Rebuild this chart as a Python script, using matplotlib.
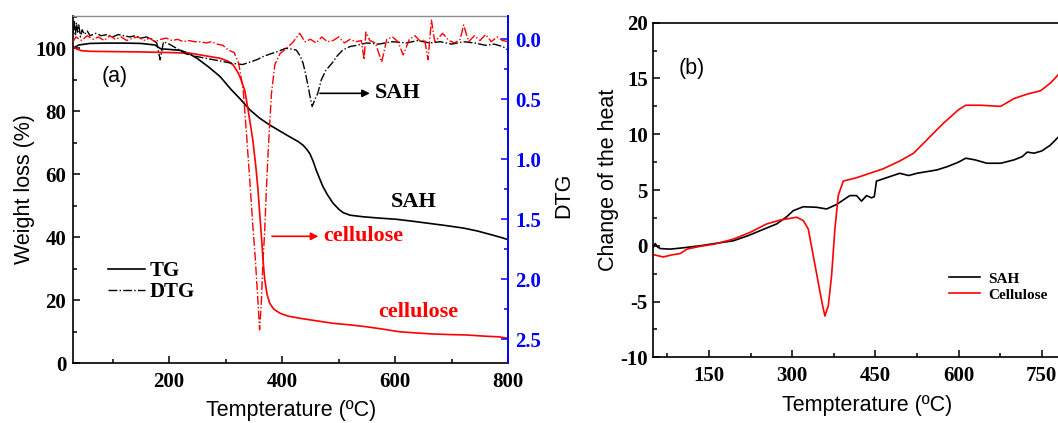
import matplotlib
matplotlib.use('Agg')
import matplotlib.pyplot as plt
from matplotlib.lines import Line2D
from matplotlib.ticker import MultipleLocator

plt.rcParams['font.family'] = 'Liberation Serif'
plt.rcParams['font.weight'] = 'bold'
plt.rcParams['axes.unicode_minus'] = False

# (a) TG curves, weight loss (%)
sah_tg_t = [30, 40, 60, 90, 120, 150, 175, 185, 200, 220,
            235, 250, 270, 290, 310, 325, 343, 360, 378, 395,
            413, 428, 437, 443, 449, 455, 460, 466, 472, 480,
            490, 500, 508, 520, 543, 570, 602, 630, 660, 690,
            721, 745, 772, 790, 800]
sah_tg = [100.0, 101.0, 101.5, 101.6, 101.6, 101.5, 101.0, 99.8, 99.6, 99.3,
          98.3, 96.7, 94.0, 91.0, 86.8, 84.0, 80.4, 77.8, 75.6, 73.8,
          71.9, 70.4, 69.2, 68.0, 66.5, 64.0, 61.4, 58.7, 56.1, 53.5,
          50.8, 48.9, 47.8, 47.0, 46.5, 46.1, 45.7, 45.1, 44.4, 43.7,
          42.9, 42.0, 40.7, 39.8, 39.2]

cel_tg_t = [30, 35, 45, 60, 100, 150, 200, 237, 270, 290,
            305, 313, 320, 325, 330, 334, 340, 348, 353, 357,
            360, 363, 366, 369, 373, 378, 385, 396, 410, 431,
            460, 490, 520, 549, 580, 608, 640, 667, 700, 725,
            760, 784, 800]
cel_tg = [100.5, 99.8, 99.2, 99.0, 98.9, 98.8, 98.6, 98.4, 97.4, 96.8,
          95.8, 94.7, 92.8, 91.0, 88.5, 86.5, 80.0, 70.9, 63.0, 55.5,
          48.0, 41.0, 33.0, 26.8, 22.0, 19.0, 17.2, 15.9, 15.0, 14.3,
          13.5, 12.7, 12.2, 11.6, 10.8, 10.0, 9.6, 9.3, 9.1, 9.0,
          8.6, 8.4, 7.9]

# (a) DTG curves
sah_dtg_t = [30, 32, 34, 36, 38, 40, 43, 46, 50, 55,
             60, 70, 80, 90, 100, 110, 120, 130, 140, 150,
             160, 170, 178, 184, 190, 200, 215, 229, 245, 267,
             290, 311, 330, 343, 355, 368, 380, 393, 406, 415,
             425, 432, 437, 441, 445, 449, 453, 458, 463, 469,
             477, 488, 497, 507, 520, 532, 550, 570, 595, 620,
             640, 660, 680, 700, 721, 740, 760, 775, 790, 800]
sah_dtg = [-0.05, -0.16, -0.03, -0.14, -0.06, -0.12, -0.02, -0.08, -0.04, -0.07,
           -0.03, -0.05, -0.03, -0.04, -0.02, -0.04, -0.03, -0.02, -0.03, -0.01,
           -0.02, 0.0, 0.03, 0.17, 0.02, 0.04, 0.08, 0.12, 0.14, 0.16,
           0.18, 0.2, 0.21, 0.19, 0.17, 0.14, 0.12, 0.1, 0.075, 0.08,
           0.09, 0.14, 0.2, 0.28, 0.37, 0.47, 0.56, 0.5, 0.45, 0.34,
           0.26, 0.2, 0.14, 0.09, 0.06, 0.05, 0.03, 0.04, 0.02, 0.03,
           0.01, 0.03, 0.02, 0.04, 0.02, 0.03, 0.05, 0.04, 0.06, 0.09]

cel_dtg_t = [30, 35, 45, 55, 65, 75, 85, 95, 105, 115,
             125, 135, 145, 155, 165, 175, 185, 195, 205, 215,
             225, 235, 245, 255, 265, 275, 285, 295, 305, 315,
             323, 331, 337, 343, 348, 352, 356, 360, 363, 366,
             369, 372, 375, 378, 381, 387, 396, 406, 418, 431,
             440, 450, 460, 470, 480, 490, 500, 510, 520, 530,
             540, 545, 548, 555, 565, 576, 585, 595, 605, 614,
             625, 635, 645, 652, 658, 664, 670, 684, 695, 705,
             715, 721, 730, 740, 750, 760, 770, 780, 790, 800]
cel_dtg = [0.02, -0.02, 0.01, -0.03, 0.0, -0.02, 0.01, -0.03, 0.0, -0.02,
           0.01, -0.01, -0.02, 0.01, -0.01, 0.02, 0.0, -0.01, 0.01, 0.0,
           0.02, 0.01, 0.02, 0.02, 0.03, 0.02, 0.04, 0.05, 0.09, 0.11,
           0.2, 0.42, 0.8, 1.2, 1.55, 1.8, 2.1, 2.42, 2.2, 1.85,
           1.6, 1.25, 0.95, 0.7, 0.45, 0.21, 0.12, 0.08, 0.03, -0.05,
           0.02, 0.0, 0.03, -0.02, 0.02, 0.01, -0.02, 0.03, 0.0, 0.02,
           0.01, 0.17, -0.06, 0.01, 0.03, 0.19, 0.0, -0.02, 0.02, 0.13,
           0.0, -0.03, 0.02, 0.0, 0.17, -0.16, 0.02, -0.05, 0.01, 0.03,
           0.0, -0.12, 0.02, -0.03, 0.01, -0.04, 0.02, -0.02, 0.01, 0.02]

# (b) change of the heat
sah_heat_t = [50, 53, 57, 62, 80, 100, 134, 160, 194, 220,
              242, 272, 290, 302, 320, 344, 362, 380, 392, 404,
              416, 425, 434, 443, 448, 452, 470, 494, 510, 525,
              543, 561, 580, 600, 613, 630, 651, 676, 700, 715,
              724, 736, 750, 765, 781, 800]
sah_heat = [-0.1, 0.2, -0.1, -0.25, -0.3, -0.2, 0.0, 0.2, 0.45, 0.9,
            1.35, 1.96, 2.6, 3.15, 3.5, 3.45, 3.3, 3.7, 4.1, 4.5,
            4.5, 4.0, 4.5, 4.3, 4.4, 5.8, 6.1, 6.5, 6.3, 6.5,
            6.65, 6.8, 7.1, 7.5, 7.85, 7.7, 7.4, 7.4, 7.7, 8.0,
            8.4, 8.3, 8.5, 9.0, 9.8, 10.3]

cel_heat_t = [50, 67, 85, 98, 110, 134, 160, 194, 224, 254,
              278, 308, 320, 329, 338, 347, 355, 359, 365, 371,
              377, 383, 392, 416, 440, 464, 494, 519, 543, 573,
              600, 613, 640, 676, 700, 724, 748, 766, 781, 800]
cel_heat = [-0.8, -1.0, -0.8, -0.7, -0.3, -0.05, 0.15, 0.6, 1.2, 1.96,
            2.3, 2.56, 2.26, 1.5, -0.9, -3.3, -5.4, -6.3, -5.4, -2.7,
            1.5, 4.5, 5.8, 6.1, 6.5, 6.9, 7.6, 8.3, 9.5, 11.0,
            12.2, 12.6, 12.6, 12.5, 13.2, 13.6, 13.9, 14.6, 15.4, 16.3]

RED = '#ff0000'
BLUE = '#0000ff'
sans = dict(family='Liberation Sans', weight='normal', size=15.5)

fig = plt.figure(figsize=(10.58, 4.23), dpi=100)

# ---- panel (a)
ax1 = fig.add_axes([0.0693, 0.1411, 0.4111, 0.8218])
ax2 = ax1.twinx()

ax1.plot(sah_tg_t, sah_tg, color='k', lw=1.2)
ax1.plot(cel_tg_t, cel_tg, color=RED, lw=1.2)
ax2.plot(sah_dtg_t, sah_dtg, color='k', lw=1.0, ls='-.')
ax2.plot(cel_dtg_t, cel_dtg, color=RED, lw=1.0, ls='-.')

ax1.set_xlim(30.4, 800)
ax1.set_ylim(0, 110.3)
ax2.set_ylim(2.7, -0.197)
ax1.xaxis.set_major_locator(MultipleLocator(200))
ax1.xaxis.set_minor_locator(MultipleLocator(100))
ax1.yaxis.set_major_locator(MultipleLocator(20))
ax1.yaxis.set_minor_locator(MultipleLocator(10))
ax2.yaxis.set_major_locator(MultipleLocator(0.5))
ax2.yaxis.set_minor_locator(MultipleLocator(0.25))

ax1.tick_params(which='both', direction='in', labelsize=15, width=1.1)
ax1.tick_params(which='major', length=5)
ax1.tick_params(which='minor', length=3)
ax1.tick_params(axis='y', pad=5)
ax1.tick_params(axis='x', pad=6)
ax1.tick_params(right=False, top=False)
ax2.tick_params(which='both', direction='in', labelsize=15, width=1.1,
                colors=BLUE, pad=5)
ax2.tick_params(which='major', length=5)
ax2.tick_params(which='minor', length=3)

for s in ['left', 'bottom']:
    ax1.spines[s].set_linewidth(1.2)
ax1.spines['top'].set_color('#8c8c8c')
ax1.spines['top'].set_linewidth(1.0)
ax1.spines['right'].set_visible(False)
for s in ['left', 'bottom', 'top']:
    ax2.spines[s].set_visible(False)
ax2.spines['right'].set_color(BLUE)
ax2.spines['right'].set_linewidth(1.4)

ax1.set_xlabel('Tempterature (ºC)', **sans)
ax1.set_ylabel('Weight loss (%)', **sans)
ax2.set_ylabel('DTG', **sans)
ax1.xaxis.set_label_coords(0.5, -0.105)
ax1.yaxis.set_label_coords(-0.088, 0.5)
ax2.yaxis.set_label_coords(1.103, 0.484)

ax1.text(102.8, 91, '(a)', ha='center', va='center', **sans)
ax2.annotate('', xy=(560, 0.45), xytext=(462, 0.45),
             arrowprops=dict(arrowstyle='-|>', color='k', lw=1.2, mutation_scale=11))
ax2.text(563, 0.45, 'SAH', ha='left', va='center', fontsize=16, color='k')
ax1.text(593, 51.2, 'SAH', ha='left', va='center', fontsize=16, color='k')
ax1.annotate('', xy=(469, 40.3), xytext=(377, 40.3),
             arrowprops=dict(arrowstyle='-|>', color=RED, lw=1.2, mutation_scale=11))
ax1.text(472, 40.3, 'cellulose', ha='left', va='center', fontsize=16, color=RED)
ax1.text(640, 16.3, 'cellulose', ha='center', va='center', fontsize=16, color=RED)

ax1.legend(handles=[Line2D([], [], color='k', lw=1.2, label='TG'),
                    Line2D([], [], color='k', lw=1.0, ls='-.', label='DTG')],
           loc='upper left', bbox_to_anchor=(0.079, 0.294), frameon=False,
           prop=dict(family='Liberation Serif', weight='bold', size=15),
           handlelength=1.8, handletextpad=0.2, labelspacing=0.05,
           borderpad=0, borderaxespad=0)

# ---- panel (b)
ax3 = fig.add_axes([0.6175, 0.1553, 0.3933, 0.791])
ax3.plot(sah_heat_t, sah_heat, color='k', lw=1.2, label='SAH')
ax3.plot(cel_heat_t, cel_heat, color=RED, lw=1.2, label='Cellulose')
ax3.set_xlim(49.5, 800)
ax3.set_ylim(-10, 20)
ax3.xaxis.set_major_locator(MultipleLocator(150))
ax3.xaxis.set_minor_locator(MultipleLocator(75))
ax3.yaxis.set_major_locator(MultipleLocator(5))
ax3.yaxis.set_minor_locator(MultipleLocator(2.5))
ax3.tick_params(which='both', direction='in', labelsize=15, width=1.1,
                top=False, right=False)
ax3.tick_params(which='major', length=5)
ax3.tick_params(which='minor', length=3)
ax3.tick_params(axis='y', pad=4)
ax3.tick_params(axis='x', pad=6)
for s in ax3.spines.values():
    s.set_linewidth(1.2)

ax3.set_xlabel('Tempterature (ºC)', **sans)
ax3.set_ylabel('Change of the heat', **sans)
ax3.xaxis.set_label_coords(0.515, -0.112)
ax3.yaxis.set_label_coords(-0.0824, 0.53)
ax3.text(118.8, 15.9, '(b)', ha='center', va='center', **sans)
ax3.legend(loc='upper left', bbox_to_anchor=(0.711, 0.255), frameon=False,
           prop=dict(family='Liberation Serif', weight='bold', size=11),
           handlelength=2.05, handletextpad=0.5, labelspacing=0.16,
           borderpad=0, borderaxespad=0)

fig.savefig('out.png', dpi=100)
